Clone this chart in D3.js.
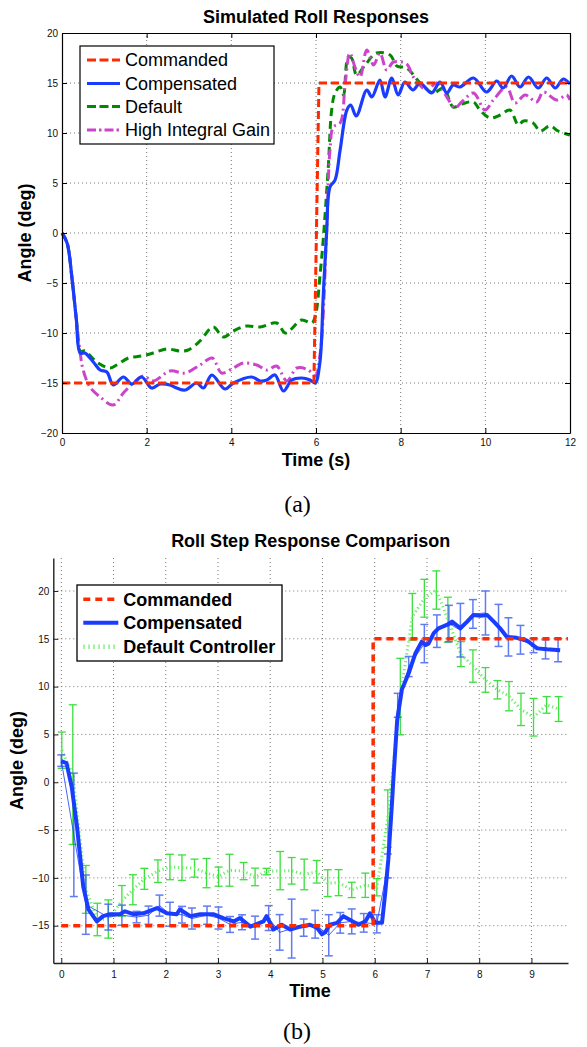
<!DOCTYPE html>
<html><head><meta charset="utf-8">
<script src="https://cdn.jsdelivr.net/npm/d3@7"></script>
<style>
body{margin:0;background:#fff}
svg{display:block}
</style>
</head><body>
<svg id="c" width="587" height="1047" font-family='"Liberation Sans",Arial,Helvetica,sans-serif'></svg>
<script>
// ---------- Chart (a) data ----------
const aXTicks = [0,2,4,6,8,10,12];
const aYTicks = [-20,-15,-10,-5,0,5,10,15,20];
const aCommanded = [[0,-15],[5.95,-15],[6.07,15],[12,15]];
const aCompensated = [[0,0],[0.12,-1.0],[0.24,-4.7],[0.34,-8.7],[0.43,-12.0],[0.54,-12.0],[0.74,-12.9],[0.90,-13.7],[1.06,-13.9],[1.21,-15.2],[1.45,-14.4],[1.65,-15.1],[1.88,-14.4],[2.12,-15.5],[2.32,-15.1],[2.55,-15.2],[2.71,-15.5],[2.91,-15.7],[3.18,-15.0],[3.34,-15.5],[3.54,-14.2],[3.85,-15.6],[4.05,-15.0],[4.48,-14.4],[4.68,-14.8],[4.84,-14.7],[5.03,-14.2],[5.23,-15.8],[5.43,-14.7],[5.66,-14.5],[5.86,-14.7],[5.98,-15.0],[6.09,-13.0],[6.17,-6.4],[6.25,0.0],[6.33,4.6],[6.45,5.3],[6.57,8.3],[6.73,12.3],[6.82,12.8],[6.95,11.7],[7.20,14.3],[7.32,13.6],[7.51,15.3],[7.63,13.6],[7.79,15.5],[7.94,13.8],[8.10,15.1],[8.29,14.3],[8.46,15.0],[8.73,14.0],[8.93,15.1],[9.09,14.0],[9.24,14.8],[9.40,14.6],[9.72,15.5],[10.03,14.1],[10.27,15.2],[10.42,14.5],[10.62,15.7],[10.82,14.6],[11.02,15.6],[11.25,14.5],[11.45,15.5],[11.65,14.5],[11.84,15.4],[12.0,14.9]];
const aDefault = [[0,0],[0.12,-1.0],[0.24,-4.7],[0.34,-8.7],[0.43,-11.8],[0.54,-11.8],[0.82,-12.9],[1.13,-13.5],[1.29,-13.2],[1.57,-12.5],[1.88,-12.3],[2.16,-12.0],[2.47,-11.6],[2.79,-11.8],[2.98,-11.7],[3.26,-10.8],[3.57,-9.4],[3.81,-10.4],[4.05,-9.8],[4.36,-9.3],[4.68,-9.4],[5.07,-9.0],[5.27,-10.0],[5.39,-9.7],[5.66,-8.7],[5.90,-9.0],[5.98,-8.4],[6.10,-4.0],[6.17,-0.7],[6.29,6.6],[6.37,12.3],[6.45,14.0],[6.57,14.6],[6.65,13.8],[6.76,17.6],[6.84,17.5],[6.96,15.8],[7.16,16.8],[7.43,18.0],[7.75,17.8],[7.91,16.7],[8.14,16.5],[8.46,15.0],[8.77,14.0],[9.01,14.5],[9.24,12.6],[9.44,12.9],[9.72,13.1],[9.87,12.3],[10.11,11.5],[10.35,11.8],[10.58,12.3],[10.78,10.8],[10.90,11.2],[11.13,11.0],[11.29,10.2],[11.53,10.7],[11.72,10.2],[12.0,9.8]];
const aHighGain = [[0,0],[0.12,-1.0],[0.24,-4.7],[0.34,-8.7],[0.43,-12.0],[0.50,-13.7],[0.66,-15.4],[0.90,-16.4],[1.21,-17.2],[1.45,-16.0],[1.68,-15.0],[1.92,-14.3],[2.16,-14.8],[2.55,-13.8],[2.91,-14.0],[3.26,-13.2],[3.55,-12.5],[3.77,-14.0],[4.05,-13.5],[4.28,-13.0],[4.60,-13.2],[4.84,-13.7],[5.07,-13.3],[5.31,-14.8],[5.55,-13.5],[5.82,-13.7],[5.98,-14.3],[6.10,-12.0],[6.25,0.0],[6.33,8.3],[6.41,10.6],[6.57,11.0],[6.69,15.0],[6.80,18.0],[6.92,16.6],[7.04,15.6],[7.20,18.3],[7.36,16.8],[7.51,18.0],[7.67,16.3],[7.83,17.1],[8.14,16.9],[8.30,15.6],[8.62,14.3],[8.85,15.0],[9.09,13.6],[9.28,12.5],[9.44,13.1],[9.72,14.0],[9.99,12.3],[10.19,13.3],[10.50,14.6],[10.70,13.0],[10.94,13.8],[11.21,13.1],[11.37,14.1],[11.69,13.3],[11.92,13.8],[12.0,13.3]];
const aLegend = ["Commanded","Compensated","Default","High Integral Gain"];

// ---------- Chart (b) data ----------
const bXTicks = [0,1,2,3,4,5,6,7,8,9];
const bYTicks = [-15,-10,-5,0,5,10,15,20];
const bCommanded = [[0,-15],[5.97,-15],[5.97,15],[9.7,15]];
const bCompensated = [[0,2.2],[0.10,2.0],[0.20,-0.5],[0.30,-4.6],[0.42,-10.9],[0.52,-13.3],[0.68,-14.55],[0.80,-14.0],[0.93,-13.8],[1.12,-13.8],[1.22,-13.5],[1.38,-13.8],[1.57,-13.7],[1.83,-13.15],[2.02,-13.7],[2.21,-13.8],[2.27,-13.3],[2.47,-14.0],[2.66,-13.8],[2.91,-13.8],[3.10,-14.2],[3.30,-14.55],[3.42,-14.2],[3.62,-15.1],[3.87,-14.55],[3.93,-14.0],[4.06,-15.4],[4.22,-14.9],[4.38,-15.4],[4.57,-15.1],[4.76,-14.9],[4.89,-15.2],[4.99,-15.9],[5.05,-15.7],[5.14,-14.9],[5.28,-14.7],[5.40,-14.0],[5.53,-14.4],[5.69,-14.9],[5.82,-14.55],[5.91,-13.7],[6.01,-14.7],[6.14,-14.7],[6.20,-11.6],[6.26,-8.1],[6.33,-2.2],[6.36,0.6],[6.43,6.5],[6.52,9.7],[6.65,11.4],[6.78,13.5],[6.90,14.7],[6.97,14.35],[7.03,14.5],[7.13,15.6],[7.22,16.1],[7.38,16.45],[7.48,16.8],[7.64,16.1],[7.77,16.8],[7.89,17.5],[8.02,17.4],[8.15,17.5],[8.28,16.8],[8.40,16.1],[8.53,15.2],[8.72,15.1],[8.92,14.8],[9.11,14.0],[9.30,13.9],[9.55,13.8]];
// [time, mean, half-range]
const bCompBars = [[0.0,2.26,0.6],[0.24,-5.5,6.45],[0.47,-12.8,3.1],[0.90,-14.1,1.35],[1.16,-13.9,1.05],[1.44,-14.1,0.6],[1.67,-13.9,0.95],[1.88,-12.9,1.1],[2.08,-13.8,1.25],[2.31,-13.85,0.87],[2.50,-14.25,1.1],[2.79,-13.9,0.95],[3.01,-14.2,1.15],[3.23,-14.87,0.83],[3.46,-14.64,0.78],[3.71,-15.2,1.2],[3.97,-14.2,1.3],[4.18,-15.7,1.86],[4.41,-15.3,3.08],[4.64,-15.2,0.9],[4.86,-14.85,1.45],[5.12,-16.0,2.15],[5.34,-14.7,1.08],[5.56,-14.55,1.3],[5.79,-14.7,0.97],[6.04,-14.8,0.95],[6.25,-8.75,1.25],[6.44,8.05,1.25],[6.65,12.1,1.05],[6.95,14.5,2.0],[7.19,15.8,1.7],[7.42,16.6,1.9],[7.64,15.9,2.8],[7.88,17.6,1.5],[8.12,17.7,2.3],[8.37,16.4,2.2],[8.56,15.2,2.0],[8.79,14.9,1.5],[9.04,14.3,0.75],[9.27,13.9,1.0],[9.51,13.8,1.2]];
const bDefaultBars = [[0.01,3.35,1.9],[0.22,0.8,7.3],[0.47,-11.2,2.5],[0.69,-14.35,1.7],[0.90,-14.3,2.0],[1.16,-12.4,1.6],[1.37,-11.24,1.57],[1.59,-10.1,1.1],[1.85,-9.3,1.18],[2.08,-8.86,1.33],[2.31,-8.93,1.33],[2.55,-8.98,0.94],[2.78,-9.5,1.53],[3.01,-9.87,1.0],[3.22,-9.2,1.67],[3.49,-9.29,0.9],[3.71,-9.9,0.92],[3.93,-9.34,0.34],[4.19,-9.24,2.0],[4.41,-9.26,1.39],[4.65,-9.64,1.6],[4.89,-9.36,1.18],[5.10,-10.55,1.4],[5.31,-10.5,1.36],[5.56,-11.26,0.8],[5.82,-10.77,1.27],[6.04,-10.98,0.9],[6.25,-3.8,3.0],[6.49,8.96,4.0],[6.72,17.3,2.44],[6.95,19.24,1.98],[7.18,20.1,2.0],[7.40,17.0,2.35],[7.65,13.4,1.3],[7.88,12.15,1.69],[8.12,10.7,1.29],[8.35,9.67,0.96],[8.57,9.0,1.53],[8.80,7.62,1.69],[9.04,6.8,1.97],[9.29,8.09,0.87],[9.52,7.66,1.3]];
const bLegend = ["Commanded","Compensated","Default Controller"];

// ---------- drawing ----------
const svg = d3.select("#c");
const SANS = '"Liberation Sans",Arial,Helvetica,sans-serif';
const SERIF = '"Liberation Serif","Times New Roman",Times,serif';
const RED = "#ff2a00", BLUE = "#1a3cff", GREEN = "#008a00", MAG = "#cc44cc";
const LGREEN = "#33dd33", LGREEN_DOT = "#66ee66", BAR_BLUE = "#3a5cf0";

function grid(g, x, y, xt, yt, x0, x1, y0, y1) {
  g.selectAll(".gx").data(xt).join("line").attr("class","gx")
    .attr("x1", d => x(d)).attr("x2", d => x(d)).attr("y1", y0).attr("y2", y1)
    .attr("stroke", "#777").attr("stroke-width", 1).attr("stroke-dasharray", "1,3");
  g.selectAll(".gy").data(yt).join("line").attr("class","gy")
    .attr("y1", d => y(d)).attr("y2", d => y(d)).attr("x1", x0).attr("x2", x1)
    .attr("stroke", "#777").attr("stroke-width", 1).attr("stroke-dasharray", "1,3");
}
function styleAxis(a, col, w) {
  a.attr("font-family", SANS).attr("font-size", 10);
  a.selectAll("path").attr("stroke", col).attr("stroke-width", w);
  a.selectAll("line").attr("stroke", col);
  a.selectAll("text").attr("fill", "#111");
}

// ===== Chart (a) =====
{
  const L = 62, R = 570, T = 33, B = 433;
  const x = d3.scaleLinear().domain([0, 12]).range([L, R]);
  const y = d3.scaleLinear().domain([-20, 20]).range([B, T]);
  const g = svg.append("g");
  const gg = g.append("g");
  grid(gg, x, y, aXTicks.slice(1, -1), aYTicks.slice(1, -1), L, R, B, T);

  const line = d3.line().x(d => x(d[0])).y(d => y(d[1]));
  const smooth = d3.line().x(d => x(d[0])).y(d => y(d[1])).curve(d3.curveCatmullRom.alpha(0.5));

  g.append("path").attr("d", smooth(aDefault)).attr("fill", "none").attr("stroke", GREEN)
    .attr("stroke-width", 3).attr("stroke-dasharray", "8,5");
  g.append("path").attr("d", smooth(aHighGain)).attr("fill", "none").attr("stroke", MAG)
    .attr("stroke-width", 3).attr("stroke-dasharray", "10,4,2,4");
  g.append("path").attr("d", smooth(aCompensated)).attr("fill", "none").attr("stroke", BLUE)
    .attr("stroke-width", 3.2);
  g.append("path").attr("d", line(aCommanded)).attr("fill", "none").attr("stroke", RED)
    .attr("stroke-width", 3).attr("stroke-dasharray", "8,4");

  const ax = g.append("g").attr("transform", `translate(0,${B})`)
    .call(d3.axisBottom(x).tickValues(aXTicks).tickSize(-5).tickSizeOuter(0).tickPadding(6));
  const ay = g.append("g").attr("transform", `translate(${L},0)`)
    .call(d3.axisLeft(y).tickValues(aYTicks).tickSize(-5).tickSizeOuter(0).tickPadding(4));
  const at = g.append("g").attr("transform", `translate(0,${T})`)
    .call(d3.axisTop(x).tickValues(aXTicks).tickSize(-5).tickSizeOuter(0).tickFormat(""));
  const ar = g.append("g").attr("transform", `translate(${R},0)`)
    .call(d3.axisRight(y).tickValues(aYTicks).tickSize(-5).tickSizeOuter(0).tickFormat(""));
  [ax, ay, at, ar].forEach(a => styleAxis(a, "#000", 1.2));

  g.append("text").attr("x", (L + R) / 2).attr("y", 23).attr("text-anchor", "middle")
    .attr("font-size", 18).attr("font-weight", "bold").text("Simulated Roll Responses");
  g.append("text").attr("x", (L + R) / 2).attr("y", 466).attr("text-anchor", "middle")
    .attr("font-size", 18).attr("font-weight", "bold").text("Time (s)");
  g.append("text").attr("transform", `translate(30.5,${(T + B) / 2}) rotate(-90)`)
    .attr("text-anchor", "middle").attr("font-size", 18).attr("font-weight", "bold").text("Angle (deg)");
  g.append("text").attr("x", 297.5).attr("y", 512).attr("text-anchor", "middle")
    .attr("font-family", SERIF).attr("font-size", 24).text("(a)");

  const lg = g.append("g");
  lg.append("rect").attr("x", 80).attr("y", 46).attr("width", 194).attr("height", 98)
    .attr("fill", "#fff").attr("stroke", "#000").attr("stroke-width", 1.2);
  const ly = [60, 83.5, 106.5, 130];
  const styles = [
    {c: RED, w: 3, da: "9,3.5"}, {c: BLUE, w: 3.2, da: null},
    {c: GREEN, w: 3, da: "9,3.5"}, {c: MAG, w: 3, da: "9,3,2.5,3"}];
  aLegend.forEach((name, i) => {
    const s = styles[i];
    const l = lg.append("line").attr("x1", 87).attr("x2", 120).attr("y1", ly[i]).attr("y2", ly[i])
      .attr("stroke", s.c).attr("stroke-width", s.w);
    if (s.da) l.attr("stroke-dasharray", s.da);
    lg.append("text").attr("x", 125).attr("y", ly[i] + 6.3).attr("font-size", 18).text(name);
  });
}

// ===== Chart (b) =====
{
  const L = 53.3, R = 568, T = 558, B = 963;
  const x = d3.scaleLinear().domain([-0.153, 9.7]).range([L, R]);
  const y = d3.scaleLinear().domain([-18.9, 23.45]).range([B, T]);
  const g = svg.append("g");
  const gg = g.append("g");
  grid(gg, x, y, bXTicks, bYTicks, L, R, B, T);

  const line = d3.line().x(d => x(d[0])).y(d => y(d[1]));

  const cap = 4;
  function bars(data, color, w, op) {
    const eg = g.append("g").attr("stroke", color).attr("stroke-width", w).attr("opacity", op).attr("fill", "none");
    data.forEach(d => {
      const xx = x(d[0]), yt = y(d[1] + d[2]), yb = y(d[1] - d[2]);
      eg.append("line").attr("x1", xx).attr("x2", xx).attr("y1", yt).attr("y2", yb);
      eg.append("line").attr("x1", xx - cap).attr("x2", xx + cap).attr("y1", yt).attr("y2", yt);
      eg.append("line").attr("x1", xx - cap).attr("x2", xx + cap).attr("y1", yb).attr("y2", yb);
    });
  }
  bars(bDefaultBars, LGREEN, 1.3, 0.95);
  g.append("path").attr("d", line(bDefaultBars.map(d => [d[0], d[1]]))).attr("fill", "none")
    .attr("stroke", LGREEN_DOT).attr("stroke-width", 3).attr("stroke-dasharray", "1.2,2.8");

  bars(bCompBars, BAR_BLUE, 1.5, 0.8);
  g.append("path").attr("d", line(bCompBars.map(d => [d[0], d[1]]))).attr("fill", "none")
    .attr("stroke", BLUE).attr("stroke-width", 1).attr("opacity", 0.8);
  g.append("path").attr("d", line(bCompensated)).attr("fill", "none").attr("stroke", BLUE)
    .attr("stroke-width", 4).attr("stroke-linejoin", "round");

  g.append("path").attr("d", line(bCommanded)).attr("fill", "none").attr("stroke", RED)
    .attr("stroke-width", 3.5).attr("stroke-dasharray", "7,5");

  const ax = g.append("g").attr("transform", `translate(0,${B})`)
    .call(d3.axisBottom(x).tickValues(bXTicks).tickSize(-5).tickSizeOuter(0).tickPadding(8));
  const ay = g.append("g").attr("transform", `translate(${L},0)`)
    .call(d3.axisLeft(y).tickValues(bYTicks).tickSize(-5).tickSizeOuter(0).tickPadding(4));
  [ax, ay].forEach(a => styleAxis(a, "#222", 1.4));

  g.append("text").attr("x", (L + R) / 2).attr("y", 547).attr("text-anchor", "middle")
    .attr("font-size", 18).attr("font-weight", "bold").text("Roll Step Response Comparison");
  g.append("text").attr("x", 310).attr("y", 997).attr("text-anchor", "middle")
    .attr("font-size", 18).attr("font-weight", "bold").text("Time");
  g.append("text").attr("transform", `translate(23,${(T + B) / 2}) rotate(-90)`)
    .attr("text-anchor", "middle").attr("font-size", 18).attr("font-weight", "bold").text("Angle (deg)");
  g.append("text").attr("x", 297).attr("y", 1039).attr("text-anchor", "middle")
    .attr("font-family", SERIF).attr("font-size", 24).text("(b)");

  const lg = g.append("g");
  lg.append("rect").attr("x", 77).attr("y", 585).attr("width", 205).attr("height", 76)
    .attr("fill", "#fff").attr("stroke", "#000").attr("stroke-width", 1.3);
  const ly = [599.3, 622.7, 646.7];
  const styles = [
    {c: RED, w: 3.5, da: "7,5"}, {c: BLUE, w: 4, da: null}, {c: "#88ee88", w: 4.5, da: "1.5,3.5"}];
  bLegend.forEach((name, i) => {
    const s = styles[i];
    const l = lg.append("line").attr("x1", 83.3).attr("x2", 118.3).attr("y1", ly[i]).attr("y2", ly[i])
      .attr("stroke", s.c).attr("stroke-width", s.w);
    if (s.da) l.attr("stroke-dasharray", s.da);
    lg.append("text").attr("x", 123.3).attr("y", ly[i] + 6.5).attr("font-size", 18)
      .attr("font-weight", "bold").text(name);
  });
}
</script>
</body></html>
